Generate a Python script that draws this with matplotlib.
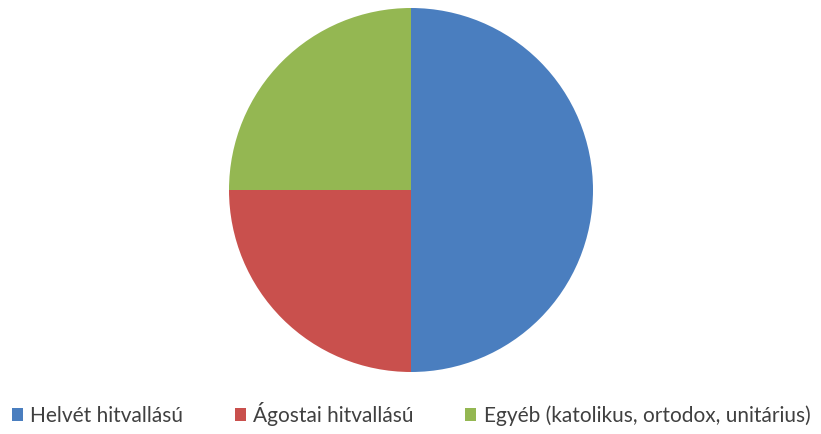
import matplotlib
matplotlib.use('agg')
import matplotlib.pyplot as plt

# share of denominations
labels = ['Helvét hitvallású', 'Ágostai hitvallású', 'Egyéb (katolikus, ortodox, unitárius)']
values = [50, 25, 25]
colors = ['#4a7ebf', '#c9504d', '#94b752']

plt.rcParams['font.family'] = ['Lato', 'DejaVu Sans']

fig = plt.figure(figsize=(8.21, 4.34), dpi=100)
# pie centre ~ (411, 190) px, radius ~182 px
ax = fig.add_axes([(411 - 182) / 821, (434 - 372) / 434, 364 / 821, 364 / 434])
wedges, _ = ax.pie(values, colors=colors, startangle=90, counterclock=False,
                   radius=1, wedgeprops=dict(linewidth=0))
ax.set_xlim(-1, 1)
ax.set_ylim(-1, 1)
ax.set_aspect('equal')

fig.legend(wedges, labels, loc='center', bbox_to_anchor=(411 / 821, 1 - 414 / 434),
           ncol=3, frameon=False, fontsize=15, handlelength=0.55, handleheight=0.55,
           handletextpad=0.35, columnspacing=2.45, labelcolor='#404040')

fig.savefig('out.png', dpi=100)
